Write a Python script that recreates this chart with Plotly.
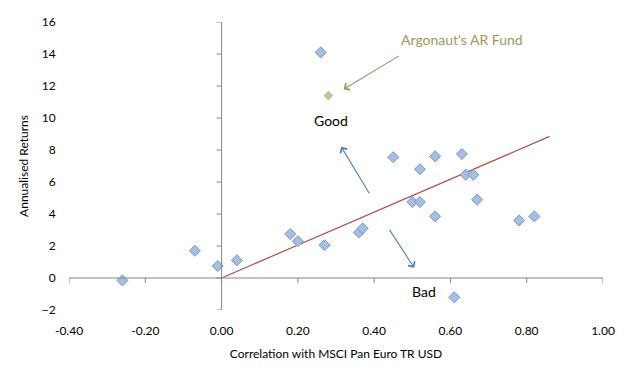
import plotly.graph_objects as go

# Peer funds: correlation vs annualised returns
peer_corr = [-0.26, -0.07, -0.01, 0.04, 0.18, 0.20, 0.27, 0.36, 0.37, 0.26,
             0.45, 0.52, 0.56, 0.63, 0.64, 0.66, 0.50, 0.52, 0.56, 0.67,
             0.78, 0.82, 0.61]
peer_ret = [-0.15, 1.7, 0.75, 1.1, 2.75, 2.3, 2.05, 2.85, 3.1, 14.1,
            7.55, 6.8, 7.6, 7.75, 6.45, 6.45, 4.75, 4.75, 3.85, 4.9,
            3.6, 3.85, -1.2]

fund_corr = [0.28]
fund_ret = [11.4]

trend_x = [0.0, 0.86]
trend_y = [0.0, 8.85]

x_ticks = [-0.4, -0.2, 0.0, 0.2, 0.4, 0.6, 0.8, 1.0]
x_tick_labels = ["-0.40", "-0.20", "0.00", "0.20", "0.40", "0.60", "0.80", "1.00"]
y_ticks = [-2, 0, 2, 4, 6, 8, 10, 12, 14, 16]

FONT = "Lato"
AXIS_COLOR = "#868686"

fig = go.Figure()

fig.add_trace(go.Scatter(
    x=trend_x, y=trend_y, mode="lines",
    line=dict(color="#B5504C", width=1.2),
    hoverinfo="skip", showlegend=False,
))
fig.add_trace(go.Scatter(
    x=peer_corr, y=peer_ret, mode="markers",
    marker=dict(symbol="diamond", size=8.5, color="#A7BEE0",
                line=dict(color="#7898C8", width=1)),
    showlegend=False,
))
fig.add_trace(go.Scatter(
    x=fund_corr, y=fund_ret, mode="markers",
    marker=dict(symbol="diamond", size=7.5, color="#C8BE98",
                line=dict(width=0)),
    showlegend=False,
))

shapes = []
# Axis lines crossing at zero
shapes.append(dict(type="line", xref="x", yref="y", x0=x_ticks[0], x1=x_ticks[-1],
                   y0=0, y1=0, line=dict(color=AXIS_COLOR, width=1)))
shapes.append(dict(type="line", xref="x", yref="y", x0=0, x1=0,
                   y0=y_ticks[0], y1=y_ticks[-1], line=dict(color=AXIS_COLOR, width=1)))
for xv in x_ticks:
    shapes.append(dict(type="line", xref="x", yref="y", ysizemode="pixel", yanchor=0,
                       x0=xv, x1=xv, y0=0, y1=-5, line=dict(color=AXIS_COLOR, width=1)))
for yv in y_ticks:
    shapes.append(dict(type="line", xref="x", yref="y", xsizemode="pixel", xanchor=0,
                       x0=0, x1=-5, y0=yv, y1=yv, line=dict(color=AXIS_COLOR, width=1)))

annotations = [
    dict(x=0.32, y=11.8, ax=0.469, ay=13.94, xref="x", yref="y", axref="x", ayref="y",
         text="", showarrow=True, arrowhead=4, arrowsize=1.4, arrowwidth=1.1,
         arrowcolor="#9E9468"),
    dict(x=0.631, y=14.9, xref="x", yref="y", text="Argonaut's AR Fund",
         showarrow=False, font=dict(family=FONT, size=14, color="#A09562")),
    dict(x=0.3135, y=8.2, ax=0.39, ay=5.19, xref="x", yref="y", axref="x", ayref="y",
         text="", showarrow=True, arrowhead=4, arrowsize=1.4, arrowwidth=1.1,
         arrowcolor="#4F7FBB"),
    dict(x=0.505, y=0.64, ax=0.438, ay=3.1, xref="x", yref="y", axref="x", ayref="y",
         text="", showarrow=True, arrowhead=4, arrowsize=1.4, arrowwidth=1.1,
         arrowcolor="#4F7FBB"),
    dict(x=0.288, y=9.83, xref="x", yref="y", text="Good", showarrow=False,
         font=dict(family=FONT, size=14, color="#000000")),
    dict(x=0.53, y=-0.83, xref="x", yref="y", text="Bad", showarrow=False,
         font=dict(family=FONT, size=14, color="#000000")),
]

fig.update_layout(
    width=641, height=372,
    margin=dict(l=61, r=46, t=14, b=70),
    paper_bgcolor="white", plot_bgcolor="white",
    font=dict(family=FONT, size=12, color="#000000"),
    shapes=shapes, annotations=annotations,
    xaxis=dict(range=[x_ticks[0], x_ticks[-1]], tickvals=x_ticks, ticktext=x_tick_labels,
               showgrid=False, zeroline=False, showline=False, automargin=False,
               ticks="outside", ticklen=10, tickcolor="rgba(0,0,0,0)",
               tickfont=dict(family=FONT, size=12),
               title=dict(text="Correlation with MSCI Pan Euro TR USD",
                          font=dict(family=FONT, size=12), standoff=12)),
    yaxis=dict(range=[y_ticks[0], y_ticks[-1]], tickvals=y_ticks,
               showgrid=False, zeroline=False, showline=False, automargin=False,
               ticks="outside", ticklen=10, tickcolor="rgba(0,0,0,0)",
               tickfont=dict(family=FONT, size=12),
               title=dict(text="Annualised Returns",
                          font=dict(family=FONT, size=12), standoff=10)),
)

fig.write_html("out.html")
